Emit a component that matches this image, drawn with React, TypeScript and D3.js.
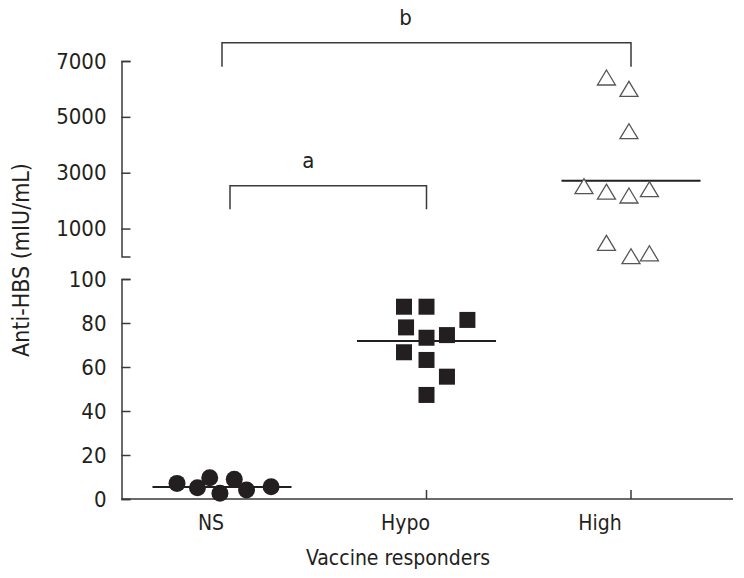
import React, { useEffect, useRef } from 'react';
import * as d3 from 'd3';

// groups on the x axis
const categories = ['NS', 'Hypo', 'High'];

// NS responders (mIU/mL), jitter is a fraction of the group spacing
const nsValues = [7.1, 5.1, 9.7, 2.6, 9.0, 4.1, 5.6];
const nsJitter = [-0.22, -0.12, -0.06, -0.01, 0.06, 0.12, 0.24];

// hypo responders
const hypoValues = [87.4, 87.4, 78.0, 81.4, 73.3, 74.5, 66.7, 63.2, 55.6, 47.3];
const hypoJitter = [-0.11, 0.0, -0.1, 0.2, 0.0, 0.1, -0.11, 0.0, 0.1, 0.0];

// high responders (upper, broken axis)
const highValues = [6409, 6004, 4486, 2517, 2320, 2184, 2410, 490, 10, 115];
const highJitter = [-0.12, -0.01, -0.01, -0.23, -0.12, -0.01, 0.09, -0.12, 0.0, 0.09];

// median bars
const medians = [5.5, 71.8, 2714];

const lowerTicks = [0, 20, 40, 60, 80, 100];
const upperTicks = [1000, 3000, 5000, 7000];

// significance brackets, heights in upper-axis units
const brackets = [
  { from: 'NS', to: 'Hypo', top: 2535, bottom: 1690, label: 'a', inset: 8 },
  { from: 'NS', to: 'High', top: 7655, bottom: 6796, label: 'b', inset: 0 },
];

const FONT = '"DejaVu Sans Condensed", "DejaVu Sans", sans-serif';
const INK = '#231f20';
const AXIS = '#3a3a3a';

const App = () => {
  const svgRef = useRef<SVGSVGElement>(null);

  useEffect(() => {
    const svg = d3.select(svgRef.current);
    svg.selectAll('*').remove();

    const x = d3.scalePoint().domain(categories).range([222, 631]);
    const xLabel = d3.scalePoint().domain(categories).range([211, 600]);
    const step = x.step();

    const yLow = d3.scaleLinear().domain([0, 100]).range([499, 279]);
    const yHigh = d3.scaleLinear().domain([0, 7000]).range([256.5, 61]);

    // y axes (ticks pointing inward)
    const lowAxis = svg.append('g')
      .attr('transform', 'translate(121.5,0)')
      .call(d3.axisLeft(yLow).tickValues(lowerTicks).tickSize(-9).tickPadding(15));
    const highAxis = svg.append('g')
      .attr('transform', 'translate(121.5,0)')
      .call(d3.axisLeft(yHigh).tickValues(upperTicks).tickFormat(d3.format('d')).tickSize(-9).tickPadding(15));

    [lowAxis, highAxis].forEach(g => {
      g.selectAll('path, line').attr('stroke', AXIS).attr('stroke-width', 1.5);
      g.selectAll('text')
        .attr('fill', INK)
        .style('font-family', FONT)
        .style('font-size', '22px');
    });

    // x axis
    const xAxis = svg.append('g').attr('transform', 'translate(0,499)');
    xAxis.append('line')
      .attr('x1', 121.5).attr('x2', 733)
      .attr('stroke', AXIS).attr('stroke-width', 1.5);
    xAxis.selectAll('line.tick')
      .data(categories)
      .enter()
      .append('line')
      .attr('class', 'tick')
      .attr('x1', d => x(d)!).attr('x2', d => x(d)!)
      .attr('y1', 0).attr('y2', -9)
      .attr('stroke', AXIS).attr('stroke-width', 1.5);
    xAxis.selectAll('text')
      .data(categories)
      .enter()
      .append('text')
      .attr('x', d => xLabel(d)!)
      .attr('y', 31)
      .attr('text-anchor', 'middle')
      .attr('fill', INK)
      .style('font-family', FONT)
      .style('font-size', '21px')
      .text(d => d);

    svg.append('text')
      .attr('x', 398)
      .attr('y', 565)
      .attr('text-anchor', 'middle')
      .attr('fill', INK)
      .style('font-family', FONT)
      .style('font-size', '21px')
      .text('Vaccine responders');

    svg.append('text')
      .attr('transform', 'translate(29,260) rotate(-90)')
      .attr('text-anchor', 'middle')
      .attr('fill', INK)
      .style('font-family', FONT)
      .style('font-size', '23px')
      .text('Anti-HBS (mIU/mL)');

    // median lines
    const medianScale = [yLow, yLow, yHigh];
    svg.append('g')
      .selectAll('line')
      .data(categories)
      .enter()
      .append('line')
      .attr('x1', d => x(d)! - step * 0.34)
      .attr('x2', d => x(d)! + step * 0.34)
      .attr('y1', (d, i) => medianScale[i](medians[i]))
      .attr('y2', (d, i) => medianScale[i](medians[i]))
      .attr('stroke', INK)
      .attr('stroke-width', 2);

    // NS circles
    svg.append('g')
      .selectAll('circle')
      .data(nsValues)
      .enter()
      .append('circle')
      .attr('cx', (d, i) => x('NS')! + nsJitter[i] * step)
      .attr('cy', d => yLow(d))
      .attr('r', 8.5)
      .attr('fill', INK);

    // Hypo squares
    const side = 16;
    svg.append('g')
      .selectAll('rect')
      .data(hypoValues)
      .enter()
      .append('rect')
      .attr('x', (d, i) => x('Hypo')! + hypoJitter[i] * step - side / 2)
      .attr('y', d => yLow(d) - side / 2)
      .attr('width', side)
      .attr('height', side)
      .attr('fill', INK);

    // High triangles (open)
    svg.append('g')
      .selectAll('path')
      .data(highValues)
      .enter()
      .append('path')
      .attr('d', (d, i) => {
        const cx = x('High')! + highJitter[i] * step;
        const cy = yHigh(d);
        return `M${cx},${cy - 7.5}L${cx + 9},${cy + 7.5}L${cx - 9},${cy + 7.5}Z`;
      })
      .attr('fill', 'white')
      .attr('stroke', '#555')
      .attr('stroke-width', 1.3);

    // brackets
    brackets.forEach(b => {
      const x1 = x(b.from)! + b.inset;
      const x2 = x(b.to)!;
      const top = yHigh(b.top);
      const bot = yHigh(b.bottom);
      svg.append('path')
        .attr('d', `M${x1},${bot}V${top}H${x2}V${bot}`)
        .attr('fill', 'none')
        .attr('stroke', AXIS)
        .attr('stroke-width', 1.5);
      svg.append('text')
        .attr('x', (xLabel(b.from)! + xLabel(b.to)!) / 2)
        .attr('y', top - 18)
        .attr('text-anchor', 'middle')
        .attr('fill', INK)
        .style('font-family', FONT)
        .style('font-size', '22px')
        .text(b.label);
    });
  }, []);

  return (
    <svg
      ref={svgRef}
      width={744}
      height={578}
      style={{ position: 'absolute', left: 0, top: 0, background: 'white' }}
    />
  );
};

export default App;
